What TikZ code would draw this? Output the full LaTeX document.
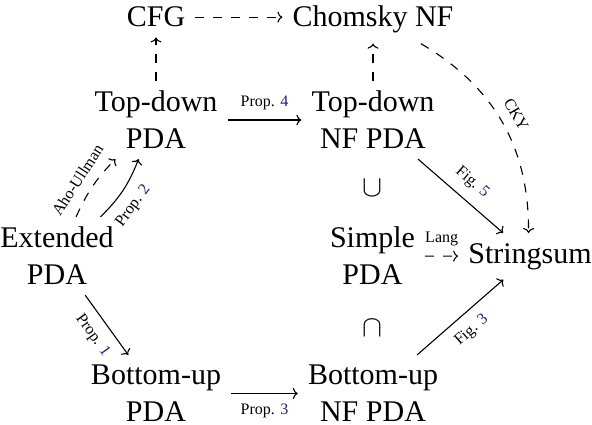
\documentclass[tikz,border=0pt]{standalone}
\usepackage{fix-cm}
\usepackage{fontspec}
\setmainfont{Liberation Serif}
\usetikzlibrary{arrows.meta}
\definecolor{refblue}{rgb}{0.12,0.12,0.55}
\begin{document}
\begin{tikzpicture}[x=1pt,y=1pt,
  st/.style={font=\fontsize{30}{37}\selectfont, inner sep=10pt, align=center},
  lab/.style={font=\fontsize{16}{19}\selectfont, inner sep=10pt},
  conn/.style={line width=1.1pt, -{To[length=5pt,width=11pt]}},
  dsh/.style={conn, dash pattern=on 9pt off 9pt}]
\useasboundingbox (0,0) rectangle (592,424);
\node[st, anchor=base] (cfg) at (156,397) {CFG};
\node[st, anchor=base] (cnf) at (373,397) {Chomsky NF};
\node[st] (td) at (156,304) {Top-down\\PDA};
\node[st] (tdnf) at (373,304) {Top-down\\NF PDA};
\node[st] (ext) at (57,168) {Extended\\PDA};
\node[st] (simple) at (372.5,168) {Simple\\PDA};
\node[st, anchor=base] (ss) at (530,161) {Stringsum};
\node[st] (bu) at (156,30.5) {Bottom-up\\PDA};
\node[st] (bunf) at (373,30.5) {Bottom-up\\NF PDA};
\node[st, inner sep=0pt] (cupn) at (372.5,236) {$\cup$};
\node[st, inner sep=0pt] (capn) at (372,96) {$\cap$};
\draw[dsh] (cfg.east) -- (cfg.east -| cnf.west);
\draw[dsh] (td) -- (cfg);
\draw[dsh] (tdnf) -- (cnf);
\draw[conn] (td) -- node[lab, above]{Prop. \textcolor{refblue}{4}} (tdnf);
\draw[conn] (bu) -- node[lab, below]{Prop. \textcolor{refblue}{3}} (bunf);
\draw[conn] (ext) -- node[lab, below, sloped]{Prop. \textcolor{refblue}{1}} (bu);
\draw[dsh] (ext) to[bend left=10] node[lab, above, sloped, pos=0.45]{Aho-Ullman} (td);
\draw[conn] (ext) to[bend right=12] node[lab, below, sloped, pos=0.4]{Prop. \textcolor{refblue}{2}} (td);
\draw[dsh] (cnf) to[bend left=30] node[lab, above, sloped]{CKY} (ss);
\draw[conn] (tdnf) -- node[lab, above, sloped]{Fig. \textcolor{refblue}{5}} (ss);
\draw[conn] (bunf) -- node[lab, below, sloped]{Fig. \textcolor{refblue}{3}} (ss);
\draw[dsh] (simple) -- node[lab, above]{Lang} (ss);
\end{tikzpicture}
\end{document}
